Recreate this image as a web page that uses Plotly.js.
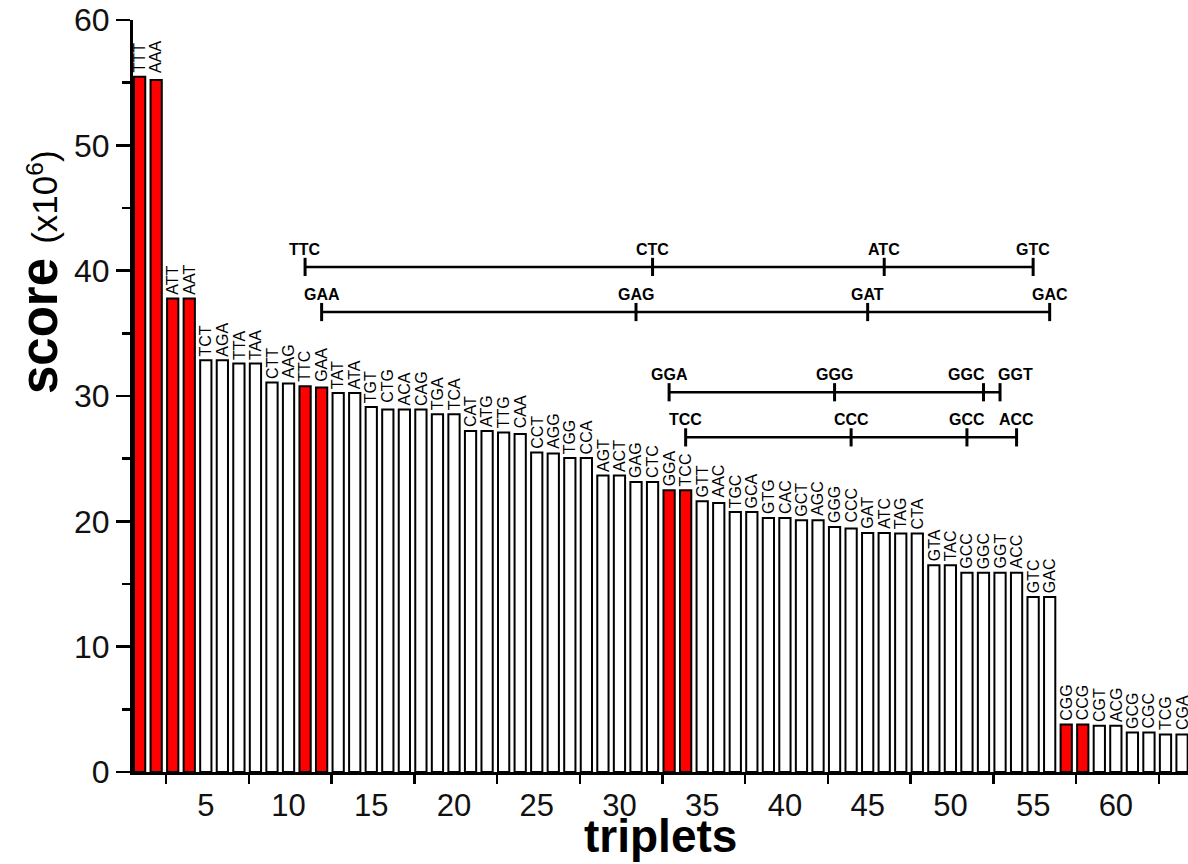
<!DOCTYPE html>
<html>
<head>
<meta charset="utf-8">
<script src="https://cdn.plot.ly/plotly-3.0.1.min.js"></script>
<style>html,body{margin:0;padding:0;background:#fff;}#chart{width:1188px;height:864px;}</style>
</head>
<body>
<div id="chart"></div>
<script>
const triplets = ['TTT','AAA','ATT','AAT','TCT','AGA','TTA','TAA','CTT','AAG','TTC','GAA','TAT','ATA','TGT','CTG','ACA','CAG','TGA','TCA','CAT','ATG','TTG','CAA','CCT','AGG','TGG','CCA','AGT','ACT','GAG','CTC','GGA','TCC','GTT','AAC','TGC','GCA','GTG','CAC','GCT','AGC','GGG','CCC','GAT','ATC','TAG','CTA','GTA','TAC','GCC','GGC','GGT','ACC','GTC','GAC','CGG','CCG','CGT','ACG','GCG','CGC','TCG','CGA'];
const scores = [55.47,55.21,37.78,37.78,32.85,32.85,32.59,32.59,31.07,30.99,30.78,30.67,30.24,30.24,29.13,28.92,28.92,28.92,28.54,28.54,27.21,27.21,27.08,26.97,25.49,25.41,25.05,25.05,23.65,23.65,23.14,23.14,22.48,22.48,21.60,21.46,20.74,20.74,20.26,20.26,20.08,20.08,19.55,19.42,19.07,19.07,19.02,19.02,16.49,16.49,15.89,15.89,15.89,15.89,13.96,13.96,3.79,3.79,3.69,3.69,3.15,3.15,2.99,2.99];
const highlighted = ['TTT','AAA','ATT','AAT','TTC','GAA','GGA','TCC','CGG','CCG'];
const xTickLabels = [5,10,15,20,25,30,35,40,45,50,55,60];
const xTickMarks = [2.6,7.6,12.6,17.6,22.6,27.6,32.6,37.6,42.6,47.6,52.6,57.6,62.6];
const yTicks = [0,10,20,30,40,50,60];
const bracketRows = [['TTC','CTC','ATC','GTC'],['GAA','GAG','GAT','GAC'],['GGA','GGG','GGC','GGT'],['TCC','CCC','GCC','ACC']];
const bracketLevels = [40.3,36.7,30.3,26.7];

const xPos = triplets.map((t,i)=>i+1);
const colors = triplets.map(t=>highlighted.includes(t)?'#ff0000':'#ffffff');
const FONT = 'Liberation Sans, Arial, sans-serif';

const traces = [{
  type:'bar', x:xPos, y:scores, width:0.68,
  marker:{color:colors, line:{color:'#000', width:2}},
  hoverinfo:'skip', showlegend:false
}];

const annotations = [];
// bar labels (pairs share baseline)
for (let i=0;i<triplets.length;i++){
  const p = i - (i%2);
  const top = Math.max(scores[p], scores[p+1] !== undefined ? scores[p+1] : scores[p]);
  annotations.push({x:xPos[i], y:top, xref:'x', yref:'y', text:triplets[i], showarrow:false,
    textangle:-90, xanchor:'center', yanchor:'bottom', yshift:3, borderpad:0,
    font:{family:FONT, size:16, color:'#000'}});
}
// brackets
bracketRows.forEach((row,r)=>{
  const xs = row.map(t=>triplets.indexOf(t)+1);
  const ys = row.map(()=>bracketLevels[r]);
  traces.push({type:'scatter', mode:'lines+markers', x:xs, y:ys, showlegend:false, hoverinfo:'skip',
    line:{color:'#000', width:2.5},
    marker:{symbol:'line-ns', size:13, line:{color:'#000', width:3}}});
  row.forEach((t,k)=>{
    let sh = 0;
    if (k<row.length-1 && xs[k+1]-xs[k] < 1.5) sh = -17;
    if (k>0 && xs[k]-xs[k-1] < 1.5) sh = 15;
    annotations.push({x:xs[k], y:bracketLevels[r], xref:'x', yref:'y', text:t, showarrow:false,
      xanchor:'center', yanchor:'bottom', yshift:7, xshift:sh,
      font:{family:FONT, size:16, color:'#000', weight:'bold'}});
  });
});
// y title
annotations.push({xref:'paper', yref:'paper', x:-0.088, y:0.665, xanchor:'center', yanchor:'middle',
  textangle:-90, showarrow:false,
  text:'<b>score</b> <span style="font-size:35px">(x10<sup>6</sup>)</span>',
  font:{family:FONT, size:51, color:'#000'}});
// x title
annotations.push({xref:'paper', yref:'paper', x:0.5, y:-0.1215, xanchor:'center', yanchor:'bottom',
  showarrow:false, borderpad:0, text:'<b>triplets</b>', font:{family:FONT, size:46, color:'#000'}});

const layout = {
  width:1188, height:864,
  margin:{l:133, r:0, t:20, b:92},
  paper_bgcolor:'#fff', plot_bgcolor:'#fff',
  font:{family:FONT, color:'#000'},
  xaxis:{range:[0.6,64.36], tickmode:'array', tickvals:xTickLabels, ticktext:xTickLabels.map(String),
    ticks:'', showgrid:false, zeroline:false, showline:true, linecolor:'#000', linewidth:3,
    tickfont:{size:31, color:'#111'}, ticklabelstandoff:4,
    minor:{tickmode:'array', tickvals:xTickMarks, ticks:'outside', ticklen:9, tickwidth:2.5, tickcolor:'#000', showgrid:false}},
  yaxis:{range:[0,60], tickmode:'array', tickvals:yTicks, ticks:'outside', ticklen:14, tickwidth:2.5, tickcolor:'#000',
    showgrid:false, zeroline:false, showline:true, linecolor:'#000', linewidth:3,
    tickfont:{size:32, color:'#111'},
    minor:{dtick:5, ticks:'outside', ticklen:8, tickwidth:2.5, tickcolor:'#000', showgrid:false}},
  annotations:annotations
};
Plotly.newPlot('chart', traces, layout, {displayModeBar:false, staticPlot:true});
</script>
</body>
</html>
